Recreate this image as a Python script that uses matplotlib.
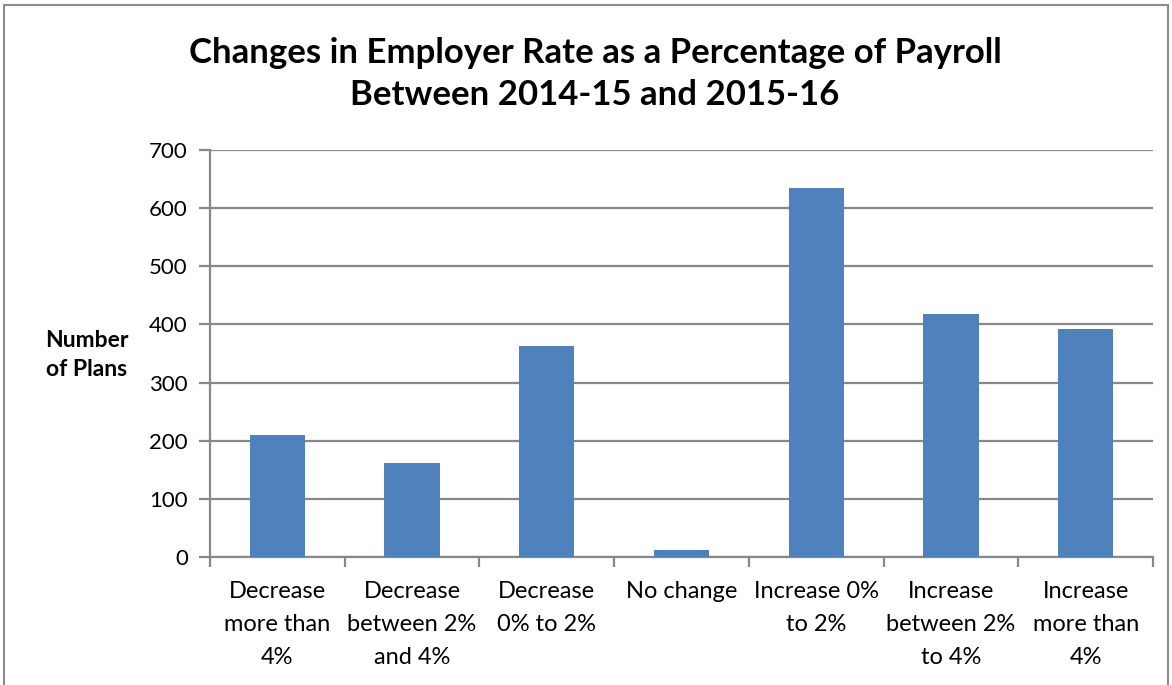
import numpy as np
import matplotlib.pyplot as plt
from matplotlib.patches import Rectangle

# chart data
categories = ['Decrease\nmore than\n4%', 'Decrease\nbetween 2%\nand 4%', 'Decrease\n0% to 2%',
              'No change', 'Increase 0%\nto 2%', 'Increase\nbetween 2%\nto 4%', 'Increase\nmore than\n4%']
plans = [210, 162, 363, 12, 635, 418, 392]
y_ticks = [0, 100, 200, 300, 400, 500, 600, 700]

plt.rcParams['font.family'] = ['Lato', 'DejaVu Sans']

W, H = 1172, 685
fig = plt.figure(figsize=(W / 100, H / 100), dpi=100)
ax = fig.add_axes([210 / W, 1 - 557 / H, (1153 - 210) / W, (557 - 150) / H])

grid_col = '#888888'
x = np.arange(len(plans))
ax.bar(x, plans, width=0.41, color='#4F81BD', zorder=3)

ax.set_xlim(-0.5, len(plans) - 0.5)
ax.set_ylim(0, 700)
ax.set_yticks(y_ticks)
ax.set_yticklabels([str(v) for v in y_ticks], fontsize=16)
ax.yaxis.grid(True, color=grid_col, linewidth=1.6, zorder=0)

# x ticks sit on category boundaries, labels at centres
ax.set_xticks(np.arange(len(plans) + 1) - 0.5)
ax.set_xticklabels([])
ax.set_xticks(x, minor=True)
ax.set_xticklabels(categories, minor=True, fontsize=17, linespacing=1.72)
ax.tick_params(axis='x', which='minor', length=0, pad=17)
ax.tick_params(axis='x', which='major', length=7, width=1.6, color=grid_col)
ax.tick_params(axis='y', length=8, width=1.6, color=grid_col, pad=8)

for s in ['top', 'right']:
    ax.spines[s].set_visible(False)
for s in ['left', 'bottom']:
    ax.spines[s].set_color(grid_col)
    ax.spines[s].set_linewidth(1.6)

fig.text(595 / W, 1 - 74 / H, 'Changes in Employer Rate as a Percentage of Payroll\nBetween 2014-15 and 2015-16',
         ha='center', va='center', fontsize=25, fontweight='bold', linespacing=1.42)
fig.text(87 / W, 1 - 355 / H, 'Number\nof Plans', ha='center', va='center',
         fontsize=16.5, fontweight='bold', linespacing=1.42)

# outer chart border
fig.patches.append(Rectangle((4 / W, -0.05), (1168 - 4) / W, 1 - 5 / H + 0.05,
                             transform=fig.transFigure, fill=False,
                             edgecolor='#8c8c8c', linewidth=1.5))

fig.savefig('out.png', dpi=100)
